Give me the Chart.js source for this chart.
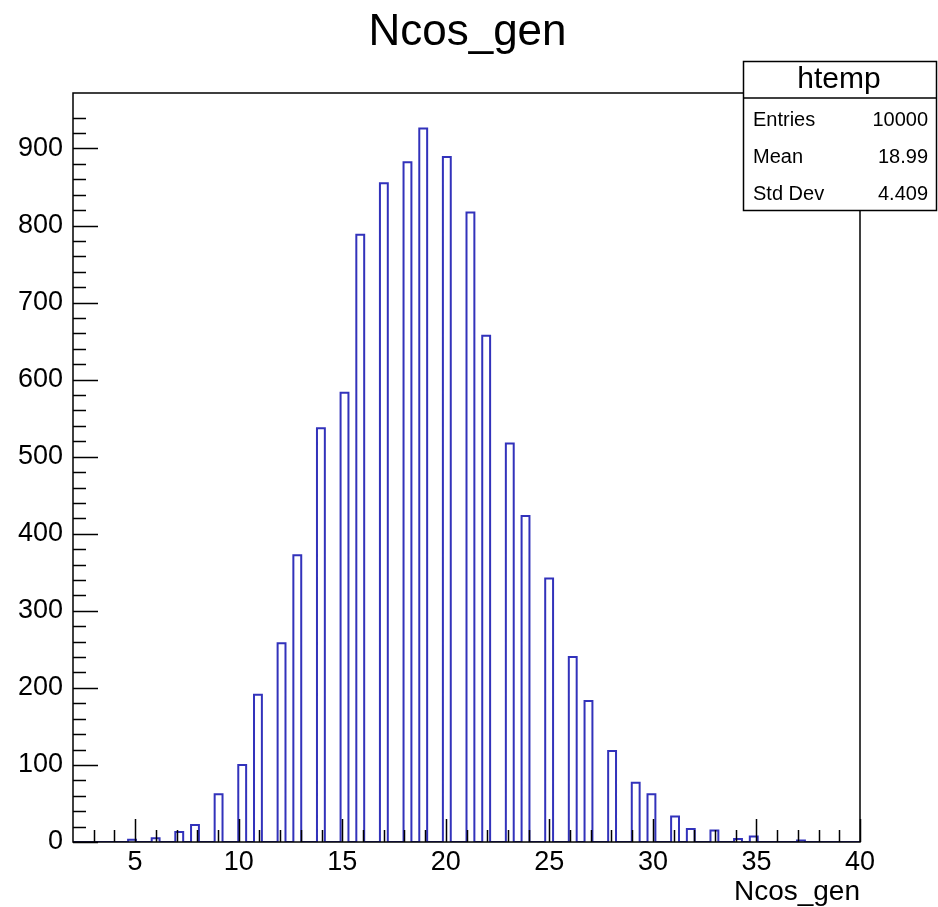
<!DOCTYPE html>
<html>
<head>
<meta charset="utf-8">
<title>Ncos_gen</title>
<script src="https://cdn.jsdelivr.net/npm/chart.js@4.4.1/dist/chart.umd.min.js"></script>
<style>
  html, body { margin: 0; padding: 0; background: #ffffff; }
  #wrap { width: 938px; height: 907px; }
</style>
</head>
<body>
<div id="wrap"><canvas id="c" width="938" height="907"></canvas></div>
<script>
// Histogram "htemp" of Ncos_gen: entries per integer value
const nValues = [5, 6, 7, 8, 9, 10, 11, 12, 13, 14, 15, 16, 17, 18, 19, 20, 21,
                 22, 23, 24, 25, 26, 27, 28, 29, 30, 31, 32, 33, 34, 35, 36, 37];
const counts  = [3, 5, 13, 22, 62, 100, 191, 258, 372, 537, 583, 788, 855, 882, 926, 889, 817,
                 657, 517, 423, 342, 240, 183, 118, 77, 62, 33, 17, 15, 4, 7, 0, 2];

// Binning of the histogram (100 bins over [2, 40])
const X_MIN = 2;
const X_MAX = 40;
const N_BINS = 100;
const Y_MAX = 972;

// Axis tick labels
const xTickLabels = [5, 10, 15, 20, 25, 30, 35, 40];
const yTickLabels = [0, 100, 200, 300, 400, 500, 600, 700, 800, 900];

// Statistics box
const statsTitle = 'htemp';
const statsRows = [
  ['Entries', '10000'],
  ['Mean', '18.99'],
  ['Std Dev', '4.409']
];

const FONT = "'Liberation Sans', Arial, Helvetica, sans-serif";
const LINE_BLUE = '#3232bb';

// Fill bins and build the step outline (left edge of every bin + closing edge)
const binWidth = (X_MAX - X_MIN) / N_BINS;
const binContent = new Array(N_BINS).fill(0);
nValues.forEach((n, i) => {
  const b = Math.floor((n - X_MIN) / binWidth + 1e-9);
  if (b >= 0 && b < N_BINS) binContent[b] += counts[i];
});
const outline = binContent.map((c, b) => ({ x: X_MIN + b * binWidth, y: c }));
outline.push({ x: X_MAX, y: 0 });

// Frame, inward tick marks, title and stats box
const rootStyle = {
  id: 'rootStyle',
  afterDatasetsDraw(chart) {
    const ctx = chart.ctx;
    const a = chart.chartArea;
    const xs = chart.scales.x, ys = chart.scales.y;
    ctx.save();
    ctx.strokeStyle = '#000';
    ctx.lineWidth = 1.5;
    ctx.beginPath();
    // x ticks: every unit, long on labelled values
    xs.ticks.forEach(t => {
      const v = t.value;
      if (v <= X_MIN || v > X_MAX || Math.abs(v - Math.round(v)) > 1e-6) return;
      const px = Math.round(xs.getPixelForValue(v)) + 0.5;
      const len = xTickLabels.includes(v) ? 23 : 12;
      ctx.moveTo(px, a.bottom);
      ctx.lineTo(px, a.bottom - len);
    });
    // y ticks: every 20, long on labelled values
    ys.ticks.forEach(t => {
      const v = t.value;
      if (v % 20 !== 0 || v >= Y_MAX) return;
      const py = Math.round(ys.getPixelForValue(v)) + 0.5;
      const len = yTickLabels.includes(v) ? 25 : 13;
      ctx.moveTo(a.left, py);
      ctx.lineTo(a.left + len, py);
    });
    ctx.stroke();
    ctx.strokeRect(a.left, a.top, a.right - a.left, a.bottom - a.top);
    ctx.restore();
  },
  afterDraw(chart) {
    const ctx = chart.ctx;
    const a = chart.chartArea;
    ctx.save();
    ctx.fillStyle = '#000';
    // Title
    ctx.font = '44px ' + FONT;
    ctx.textAlign = 'center';
    ctx.textBaseline = 'alphabetic';
    ctx.fillText('Ncos_gen', 467.5, 45);
    // X axis title
    ctx.font = '28px ' + FONT;
    ctx.textAlign = 'right';
    ctx.fillText('Ncos_gen', a.right, 900);

    // Stats box
    const bx = 743.5, by = 61.5, bw = 193, bh = 149;
    ctx.fillStyle = '#fff';
    ctx.fillRect(bx, by, bw, bh);
    ctx.strokeStyle = '#000';
    ctx.lineWidth = 1.5;
    ctx.strokeRect(bx, by, bw, bh);
    ctx.beginPath();
    ctx.moveTo(bx, 98);
    ctx.lineTo(bx + bw, 98);
    ctx.stroke();
    ctx.fillStyle = '#000';
    ctx.font = '30px ' + FONT;
    ctx.textAlign = 'center';
    ctx.textBaseline = 'middle';
    ctx.fillText(statsTitle, 839, 80);
    ctx.font = '20px ' + FONT;
    statsRows.forEach((r, i) => {
      const y = 120 + i * 37;
      ctx.textAlign = 'left';
      ctx.fillText(r[0], 753, y);
      ctx.textAlign = 'right';
      ctx.fillText(r[1], 928, y);
    });
    ctx.restore();
  }
};

new Chart(document.getElementById('c'), {
  type: 'line',
  data: {
    datasets: [{
      label: statsTitle,
      data: outline,
      stepped: 'before',
      borderColor: LINE_BLUE,
      borderWidth: 2,
      pointRadius: 0,
      fill: false,
      tension: 0
    }]
  },
  options: {
    responsive: false,
    animation: false,
    devicePixelRatio: 1,
    layout: { padding: { left: 0, right: 78, top: 93, bottom: 0 } },
    plugins: {
      legend: { display: false },
      title: { display: false },
      tooltip: { enabled: false }
    },
    scales: {
      x: {
        type: 'linear',
        min: X_MIN,
        max: X_MAX,
        grid: { display: false, drawTicks: false },
        border: { display: false },
        ticks: {
          stepSize: 1,
          autoSkip: false,
          maxRotation: 0,
          padding: 4,
          color: '#000',
          font: { family: FONT, size: 27 },
          callback: v => (xTickLabels.includes(v) ? String(v) : '')
        },
        afterFit: s => { s.height = 65; }
      },
      y: {
        type: 'linear',
        min: 0,
        max: Y_MAX,
        grid: { display: false, drawTicks: false },
        border: { display: false },
        ticks: {
          stepSize: 20,
          autoSkip: false,
          padding: 10,
          color: '#000',
          font: { family: FONT, size: 27 },
          callback: v => (yTickLabels.includes(v) ? String(v) : '')
        },
        afterFit: s => { s.width = 73; }
      }
    }
  },
  plugins: [rootStyle]
});
</script>
</body>
</html>
